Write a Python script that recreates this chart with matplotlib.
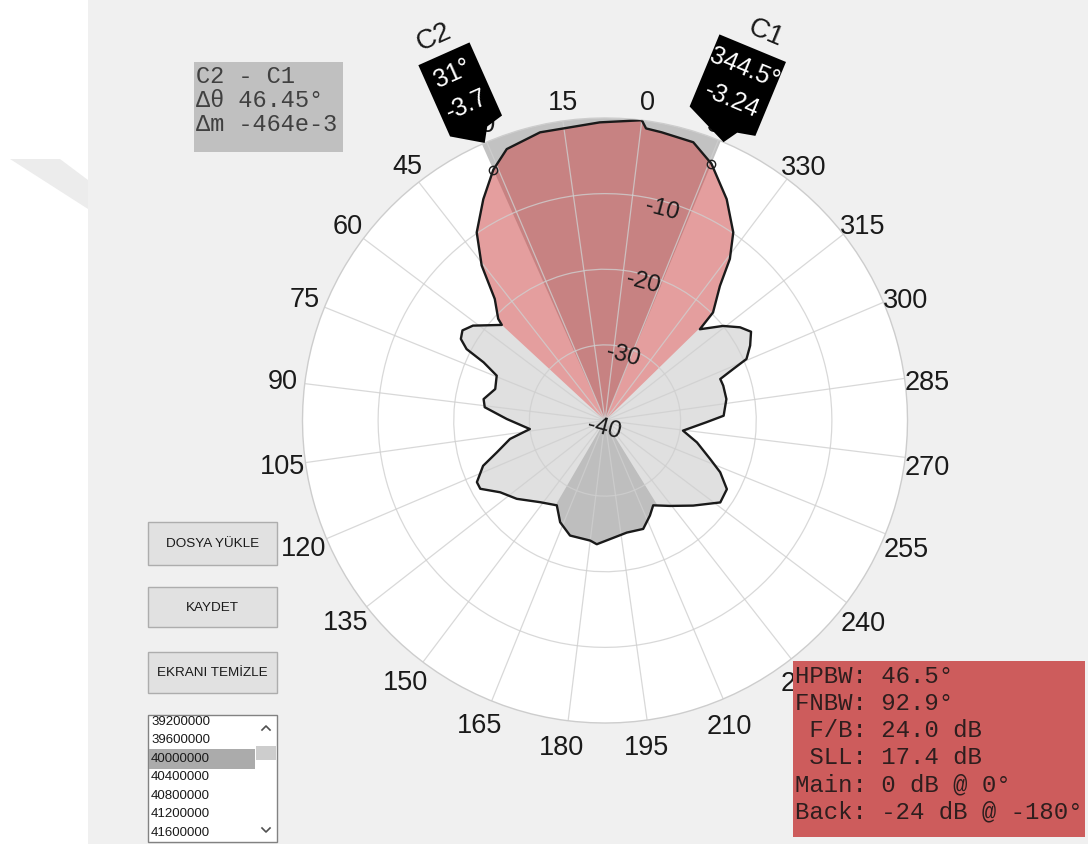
import numpy as np
import matplotlib
matplotlib.use("Agg")
import matplotlib.pyplot as plt
from matplotlib.patches import Rectangle, Polygon
from matplotlib.lines import Line2D
from matplotlib.transforms import IdentityTransform

W, H = 1088, 845

# radiation pattern (angle in deg, normalised gain in dB)
pat_deg = [0, 8, 19.7, 26.9, 31, 35.8, 41.3, 45.5, 49.2, 53.4, 54.2, 61.3, 64.7, 67.5,
           69.7, 71.4, 74.5, 81, 87, 90.7, 96.1, 103.5, 108, 113.4, 117.4, 122.7, 125.7,
           131.4, 138.6, 148.5, 157.4, 163.2, 170.1, 180, 183.2, 189.4, 198, 206.4,
           212.3, 216.6, 224.3, 233, 241.6, 247.6, 252.8, 256.9, 263.6, 269.6, 276,
           279.3, 287, 293.4, 296.8, 298.9, 300.5, 304.3, 308.3, 311.6, 315.7, 320.9,
           322, 326.5, 329.3, 332.7, 338.2, 344.5, 349.4, 355.9, 359]
pat_db = [0, -0.57, -0.94, -1.83, -3.7, -6.6, -9.9, -13.8, -18.3, -20.5, -21.4, -18.5,
          -17.7, -18.1, -19.4, -22.2, -24.5, -24.9, -23.7, -24.0, -27.0, -30.0, -27.2,
          -25.1, -22.8, -21.2, -21.2, -23.2, -24.4, -26.2, -27.1, -25.3, -24.1, -24.0,
          -23.6, -24.3, -24.9, -24.8, -26.1, -27.1, -25.8, -23.8, -21.3, -21.5, -23.3,
          -25.2, -27.5, -29.6, -26.6, -24.3, -23.7, -23.7, -23.8, -21.7, -19.6, -18.4,
          -17.4, -18.3, -20.0, -22.6, -19.8, -16.6, -13.0, -9.9, -6.6, -3.24, -1.4,
          -1.16, -1.0]

# cursors
c1_deg, c1_db = 344.5, -3.24
c2_deg, c2_db = 31.0, -3.7
hpbw = 46.5
fnbw = 92.9
back_width = 62.0

r_min, r_max = -40, 0
r_ticks = [-40, -30, -20, -10]
theta_ticks = list(range(0, 360, 15))
rot_off = -7  # zero direction turned 7 deg clockwise

delta_lines = ["C2 - C1", "\u0394\u03b8 46.45\u00b0", "\u0394m -464e-3"]
stats_lines = ["HPBW: 46.5\u00b0", "FNBW: 92.9\u00b0", " F/B: 24.0 dB", " SLL: 17.4 dB",
               "Main: 0 dB @ 0\u00b0", "Back: -24 dB @ -180\u00b0"]
buttons = ["DOSYA Y\u00dcKLE", "KAYDET", "EKRANI TEM\u0130ZLE"]
freqs = ["39200000", "39600000", "40000000", "40400000", "40800000", "41200000", "41600000"]
selected = 2

plt.rcParams['font.family'] = ['Liberation Sans', 'DejaVu Sans']


def fx(x):
    return x / W


def fy(y):
    return 1 - y / H


def frect(x0, y0, x1, y1, **kw):
    return Rectangle((fx(x0), fy(y1)), fx(x1) - fx(x0), fy(y0) - fy(y1),
                     transform=fig.transFigure, **kw)


fig = plt.figure(figsize=(W / 100, H / 100), dpi=100, facecolor='#F0F0F0')

# white strip on the left with the faint logo corner
fig.add_artist(frect(0, 0, 88, H, facecolor='white', edgecolor='none', zorder=0))
fig.add_artist(Polygon([(fx(10), fy(160)), (fx(60), fy(160)), (fx(88), fy(181)), (fx(88), fy(210))],
                       closed=True, transform=fig.transFigure, facecolor='#ECECEC',
                       edgecolor='none', zorder=0))

ax = fig.add_axes([fx(302.5), fy(724), 605 / W, 605 / H], projection='polar')
ax.set_facecolor('white')
ax.set_theta_zero_location('N', offset=rot_off)
ax.set_theta_direction(1)
ax.set_rlim(r_min, r_max)
ax.set_rticks(r_ticks[1:])
ax.set_yticklabels([])
ax.set_xticks(np.deg2rad(theta_ticks))
ax.set_xticklabels([])
ax.tick_params(length=0)
ax.grid(True, color='#CFCFCF', alpha=0.8, lw=0.9)
ax.spines['polar'].set_color('#CDCDCD')
ax.spines['polar'].set_linewidth(1.0)

th = np.deg2rad(pat_deg)
pattern, = ax.fill(th, pat_db, facecolor='#E0E0E0', edgecolor='none', zorder=1)

beam_c = c1_deg + hpbw / 2.0
back_c = beam_c + 180.0
span = r_max - r_min

# half power sector up to the outer ring
ax.bar(np.deg2rad(beam_c), span, width=np.deg2rad(hpbw), bottom=r_min,
       color='#C2C2C2', lw=0, zorder=1)
# sectors inside the pattern
for cen, wid, col in [(back_c, back_width, '#BEBEBE'),
                      (beam_c, fnbw, '#E49E9E'),
                      (beam_c, hpbw, '#C78282')]:
    bars = ax.bar(np.deg2rad(cen), span, width=np.deg2rad(wid), bottom=r_min,
                  color=col, lw=0, zorder=1)
    for b in bars:
        b.set_clip_path(pattern)

ax.plot(np.append(th, th[0] + 2 * np.pi), pat_db + [pat_db[0]], color='#1A1A1A', lw=1.7, zorder=3)
ax.plot(np.deg2rad([c1_deg, c2_deg]), [c1_db, c2_db], 'o', ms=6, mfc='none',
        mec='#1E1E1E', mew=1.0, zorder=4)

# angle labels
for a in theta_ticks:
    phi = np.deg2rad(a + rot_off)
    off = 23 - 4.2 * np.cos(phi)
    phi_l = phi + np.deg2rad(-0.6 * (1 - np.sin(phi)))
    ax.annotate(str(a), xy=(np.deg2rad(a), r_max),
                xytext=(-off * np.sin(phi_l) + 302.5 * (np.sin(phi) - np.sin(phi_l)),
                        off * np.cos(phi_l) - 302.5 * (np.cos(phi) - np.cos(phi_l))),
                textcoords='offset pixels', ha='center', va='center', fontsize=19.5,
                color='#1A1A1A', annotation_clip=False, zorder=5)

# radius labels
for v in r_ticks:
    ax.annotate(str(v), xy=(np.deg2rad(352), v), xytext=(-1.5, -7.5), textcoords='offset pixels',
                ha='center', va='center', rotation=-15, fontsize=17, color='#1A1A1A',
                annotation_clip=False, zorder=5)

# data tips for the two cursors
cx, cy = ax.transData.transform((0, r_min))
ident = IdentityTransform()


def data_tip(theta_deg, db, name, b_left, b_right):
    tx, ty = ax.transData.transform((np.deg2rad(theta_deg), r_max))
    R = np.hypot(tx - cx, ty - cy)
    u = np.array([tx - cx, ty - cy]) / R
    v = np.array([u[1], -u[0]])

    def P(a, b):
        return np.array([cx, cy]) + u * (R + a) + v * b

    shape = [(98, b_left), (98, b_right), (18, b_right), (14, 12), (0, 3), (20, b_left)]
    fig.add_artist(Polygon([P(a, b) for a, b in shape], closed=True, transform=ident,
                           facecolor='black', edgecolor='none', zorder=6))
    rot = np.degrees(np.arctan2(-u[0], u[1]))
    bc = (b_left + b_right) / 2.0
    for a, s in [(77, "%g\u00b0" % theta_deg), (43, "%g" % db)]:
        p = P(a, bc)
        fig.text(p[0], p[1], s, transform=ident, color='white', fontsize=18, rotation=rot,
                 rotation_mode='anchor', ha='center', va='center', zorder=7)
    p = P(118, 0)
    fig.text(p[0], p[1], name, transform=ident, color='#1A1A1A', fontsize=20, rotation=rot,
             rotation_mode='anchor', ha='center', va='center', zorder=7)


data_tip(c1_deg, c1_db, "C1", -42, 30)
data_tip(c2_deg, c2_db, "C2", -26, 30)

# cursor difference box
fig.add_artist(frect(194, 63, 343, 153, facecolor='#C0C0C0', edgecolor='none', zorder=6))
for i, s in enumerate(delta_lines):
    fig.text(fx(196), fy(83 + i * 24), s, family='Liberation Mono', fontsize=17,
             color='#404040', ha='left', va='baseline', zorder=7)

# pattern statistics box
fig.add_artist(frect(793, 662, 1085, 838, facecolor='#CD5C5C', edgecolor='none', zorder=6))
for i, s in enumerate(stats_lines):
    fig.text(fx(795), fy(683 + i * 27), s, family='Liberation Mono', fontsize=17.3,
             color='#2E1E1E', ha='left', va='baseline', zorder=7)

# buttons
for (y0, y1), s in zip([(523, 566), (588, 628), (653, 694)], buttons):
    fig.add_artist(frect(148, y0, 277, y1, facecolor='#E1E1E1', edgecolor='#ADADAD', lw=1, zorder=6))
    fig.text(fx(212.5), fy((y0 + y1) / 2), s, fontsize=9.7, color='#1A1A1A',
             ha='center', va='center', zorder=7)

# frequency list
fig.add_artist(frect(148, 716, 277, 843, facecolor='white', edgecolor='#828282', lw=1, zorder=6))
fig.add_artist(frect(149, 750, 255, 770, facecolor='#ABABAB', edgecolor='none', zorder=6))
fig.add_artist(frect(256, 747, 276, 761, facecolor='#CDCDCD', edgecolor='none', zorder=6))
for i, s in enumerate(freqs):
    fig.text(fx(151), fy(722 + i * 18.5), s, fontsize=9.5, color='#1A1A1A',
             ha='left', va='center', zorder=7)
for pts in [[(262, 731), (266, 727), (270, 731)], [(262, 829), (266, 833), (270, 829)]]:
    fig.add_artist(Line2D([fx(p[0]) for p in pts], [fy(p[1]) for p in pts],
                          transform=fig.transFigure, color='#505050', lw=1.2, zorder=7))

fig.savefig("out.png", dpi=100, facecolor=fig.get_facecolor())
